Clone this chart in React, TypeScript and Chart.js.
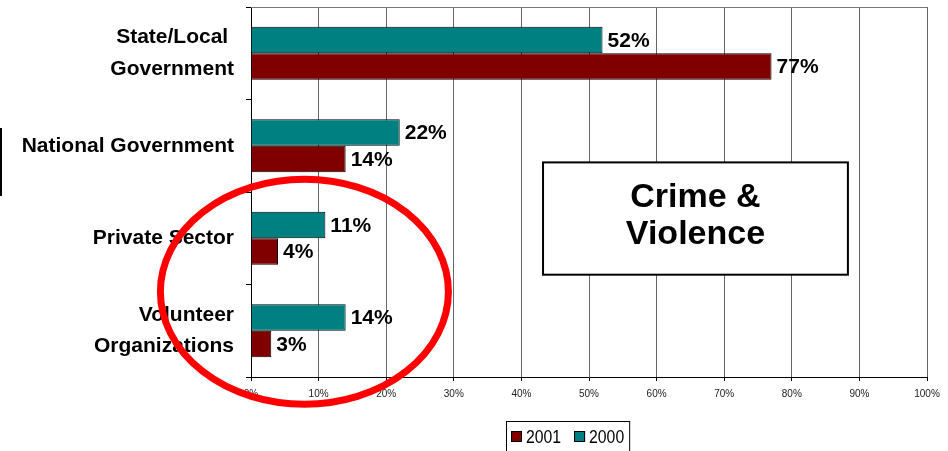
import React, { useEffect, useRef } from "react";
import { Chart, registerables } from "chart.js";

Chart.register(...registerables);

// ---- Data ----
const categories: (string | string[])[] = [
  ["State/Local ", "Government"],
  "National Government",
  "Private Sector",
  ["Volunteer", "Organizations"],
];
const series2000 = [52, 22, 11, 14];
const series2001 = [77, 14, 4, 3];
const seriesNames = ["2000", "2001"];
const seriesColors = ["#008080", "#800000"];
const xTickValues = [0, 10, 20, 30, 40, 50, 60, 70, 80, 90, 100];
const boxTitle = ["Crime &", "Violence"];

const BOLD_FONT = '"Liberation Sans", Arial, Helvetica, sans-serif';
const NARROW_FONT = '"Liberation Sans Narrow", "Arial Narrow", "Liberation Sans", Arial, sans-serif';

const W = 948;
const H = 451;

const overlayPlugin = {
  id: "overlay",
  afterDatasetsDraw(chart: any) {
    const ctx = chart.ctx;
    const area = chart.chartArea;
    ctx.save();
    // top border of plot area
    ctx.strokeStyle = "#777";
    ctx.lineWidth = 1;
    ctx.beginPath();
    ctx.moveTo(area.left, area.top + 0.5);
    ctx.lineTo(area.right, area.top + 0.5);
    ctx.stroke();

    // value labels
    ctx.fillStyle = "#000";
    ctx.font = `bold 21px ${BOLD_FONT}`;
    ctx.textAlign = "left";
    ctx.textBaseline = "middle";
    chart.data.datasets.forEach((ds: any, di: number) => {
      const meta = chart.getDatasetMeta(di);
      meta.data.forEach((bar: any, i: number) => {
        ctx.fillText(`${ds.data[i]}%`, bar.x + 5, bar.y + 1);
      });
    });
    ctx.restore();
  },
  afterDraw(chart: any) {
    const ctx = chart.ctx;
    const xs = chart.scales.x;
    const ys = chart.scales.y;
    ctx.save();

    // "Crime & Violence" box
    const bx1 = xs.getPixelForValue(43.2);
    const bx2 = xs.getPixelForValue(88.3);
    const by1 = ys.getPixelForValue(1.18);
    const by2 = ys.getPixelForValue(2.394);
    ctx.fillStyle = "#fff";
    ctx.fillRect(bx1, by1, bx2 - bx1, by2 - by1);
    ctx.strokeStyle = "#000";
    ctx.lineWidth = 2;
    ctx.strokeRect(bx1, by1, bx2 - bx1, by2 - by1);
    ctx.fillStyle = "#000";
    ctx.font = `bold 34px ${BOLD_FONT}`;
    ctx.textAlign = "center";
    ctx.textBaseline = "alphabetic";
    const cx = (bx1 + bx2) / 2;
    ctx.fillText(boxTitle[0], cx, by1 + 45);
    ctx.fillText(boxTitle[1], cx, by1 + 82);

    // custom legend (reverse dataset order: 2001, 2000)
    const items = chart.data.datasets
      .map((ds: any) => ({ label: ds.label, color: ds.backgroundColor }))
      .reverse();
    const squeeze = 0.83;
    ctx.font = `19px ${BOLD_FONT}`;
    const boxSize = 11;
    const gap = 4;
    const itemGap = 13;
    const padX = 5;
    const widths = items.map((it: any) => boxSize + gap + ctx.measureText(it.label).width * squeeze);
    const total = padX * 2 + widths.reduce((a: number, b: number) => a + b, 0) + itemGap * (items.length - 1);
    const legCenter = 568;
    const legTop = 421;
    const legLeft = Math.round(legCenter - total / 2);
    ctx.fillStyle = "#fff";
    ctx.fillRect(legLeft, legTop, total, H - legTop + 4);
    ctx.strokeStyle = "#000";
    ctx.lineWidth = 1;
    ctx.strokeRect(legLeft + 0.5, legTop + 0.5, total, H - legTop + 4);
    let lx = legLeft + padX;
    const midY = 437;
    items.forEach((it: any, i: number) => {
      ctx.fillStyle = it.color;
      ctx.fillRect(lx, midY - 6, boxSize, boxSize);
      ctx.strokeStyle = "#000";
      ctx.lineWidth = 1;
      ctx.strokeRect(lx + 0.5, midY - 5.5, boxSize - 1, boxSize - 1);
      ctx.fillStyle = "#000";
      ctx.textAlign = "left";
      ctx.textBaseline = "middle";
      ctx.save();
      ctx.translate(lx + boxSize + gap, midY + 1);
      ctx.scale(squeeze, 1);
      ctx.fillText(it.label, 0, 0);
      ctx.restore();
      lx += widths[i] + itemGap;
    });

    // stray vertical line at far left
    ctx.strokeStyle = "#000";
    ctx.lineWidth = 2;
    ctx.beginPath();
    ctx.moveTo(1, 128);
    ctx.lineTo(1, 196);
    ctx.stroke();

    // red ellipse highlight
    const ex = xs.getPixelForValue(7.9);
    const ey = ys.getPixelForValue(2.579);
    ctx.strokeStyle = "#ff0000";
    ctx.lineWidth = 7;
    ctx.beginPath();
    ctx.ellipse(ex, ey, 144, 112.5, 0, 0, Math.PI * 2);
    ctx.stroke();

    ctx.restore();
  },
};

export default function App() {
  const canvasRef = useRef<HTMLCanvasElement | null>(null);

  useEffect(() => {
    if (!canvasRef.current) return;
    const chart = new Chart(canvasRef.current, {
      type: "bar",
      data: {
        labels: categories as any,
        datasets: [
          {
            label: seriesNames[0],
            data: series2000,
            backgroundColor: seriesColors[0],
            borderColor: "#000",
            borderWidth: 1,
            categoryPercentage: 0.575,
            barPercentage: 1,
          },
          {
            label: seriesNames[1],
            data: series2001,
            backgroundColor: seriesColors[1],
            borderColor: "#000",
            borderWidth: 1,
            categoryPercentage: 0.575,
            barPercentage: 1,
          },
        ],
      },
      options: {
        indexAxis: "y",
        animation: false,
        responsive: false,
        maintainAspectRatio: false,
        layout: { padding: { top: 7, right: 21, left: 0, bottom: 0 } },
        scales: {
          x: {
            type: "linear",
            min: 0,
            max: 100,
            afterBuildTicks: (scale: any) => {
              scale.ticks = xTickValues.map((v) => ({ value: v }));
            },
            ticks: {
              callback: (v: any) => `${v}%`,
              font: { family: NARROW_FONT, size: 10 },
              color: "#222",
              padding: 7,
              maxRotation: 0,
              autoSkip: false,
            },
            grid: { color: "#666", lineWidth: 1, tickLength: 4, tickColor: "#000" },
            border: { color: "#000", width: 1 },
            afterFit: (scale: any) => {
              scale.height = 74;
              scale.paddingLeft = 0;
              scale.paddingRight = 0;
            },
          },
          y: {
            type: "category",
            ticks: {
              font: { family: BOLD_FONT, size: 21, weight: "bold", lineHeight: 1.5 },
              color: "#000",
              padding: 12,
              autoSkip: false,
            },
            grid: { drawOnChartArea: false, tickLength: 5, tickColor: "#000", offset: true },
            border: { color: "#000", width: 1 },
            afterFit: (scale: any) => {
              scale.width = 251;
              scale.paddingTop = 0;
              scale.paddingBottom = 0;
            },
          },
        },
        plugins: {
          legend: { display: false },
          tooltip: { enabled: false },
        },
      },
      plugins: [overlayPlugin],
    } as any);
    return () => chart.destroy();
  }, []);

  return (
    <div style={{ position: "fixed", left: 0, top: 0, width: W, height: H, background: "#fff" }}>
      <canvas ref={canvasRef} width={W} height={H} style={{ display: "block" }} />
    </div>
  );
}
